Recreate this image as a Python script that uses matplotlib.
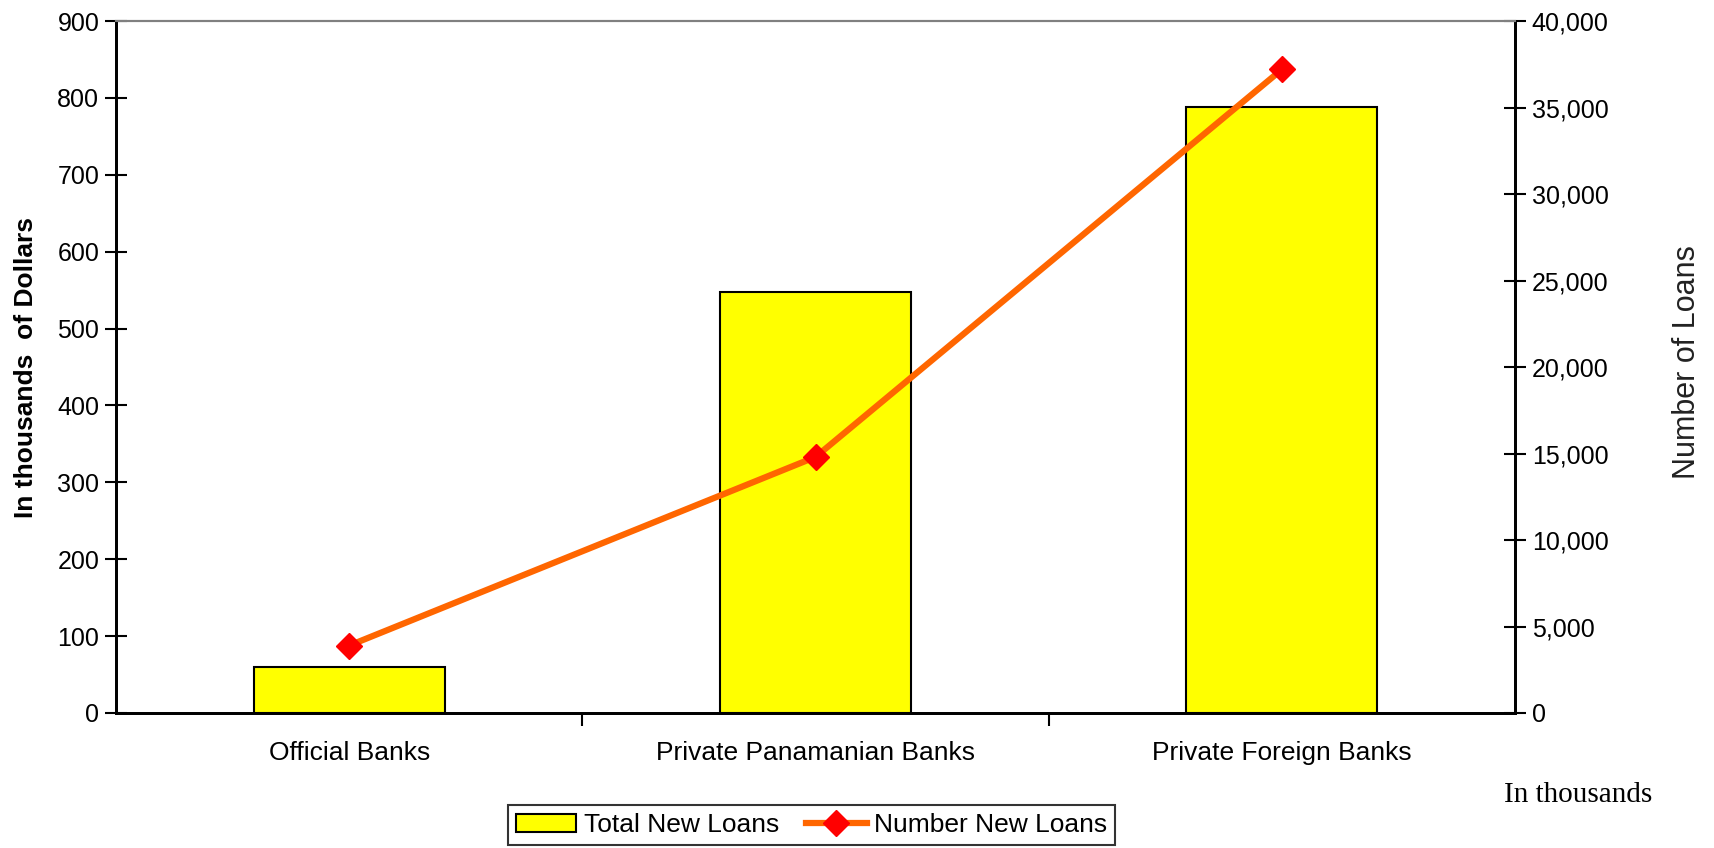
import numpy as np
import matplotlib.pyplot as plt
from matplotlib.ticker import FuncFormatter

banks = ["Official Banks", "Private Panamanian Banks", "Private Foreign Banks"]
total_new_loans = [60, 547, 788]          # thousands of dollars
number_new_loans = [3900, 14800, 37200]   # loans

plt.rcParams['font.family'] = ['Liberation Sans', 'DejaVu Sans']

fig = plt.figure(figsize=(17.14, 8.48), dpi=100)
ax = fig.add_axes([0.0677, 0.1592, 0.8162, 0.816])
ax2 = ax.twinx()

x = np.arange(len(banks))
ax.bar(x, total_new_loans, width=0.41, color='#ffff00', edgecolor='black',
       linewidth=1.5, label='Total New Loans', zorder=2)
ax2.plot(x, number_new_loans, color='#ff6600', linewidth=4.5, marker='D',
         markersize=13, markerfacecolor='#ff0000', markeredgecolor='#ff0000',
         label='Number New Loans', zorder=3)

ax.set_xlim(-0.5, len(banks) - 0.5)
ax.set_ylim(0, 900)
ax.set_yticks(np.arange(0, 901, 100))
ax2.set_ylim(0, 40000)
ax2.set_yticks(np.arange(0, 40001, 5000))
ax2.yaxis.set_major_formatter(FuncFormatter(lambda v, p: f"{int(v):,}"))

# category labels centred, tick marks on the boundaries
ax.set_xticks(x)
ax.set_xticklabels(banks, fontsize=19)
ax.tick_params(axis='x', length=0, pad=20)
ax.set_xticks(np.arange(0.5, len(banks) - 0.5, 1), minor=True)
ax.tick_params(axis='x', which='minor', direction='out', length=9, width=1.5)

ax.tick_params(axis='y', direction='inout', length=16, width=1.5,
               labelsize=18, pad=4)
ax2.tick_params(axis='y', direction='inout', length=16, width=1.5,
                labelsize=18, pad=4)

for a in (ax, ax2):
    a.spines['top'].set_color('#808080')
    a.spines['top'].set_linewidth(1.5)
    a.spines['left'].set_linewidth(2)
    a.spines['right'].set_linewidth(2)
    a.spines['bottom'].set_linewidth(2)

ax.set_ylabel('In thousands  of Dollars', fontsize=19, fontweight='bold')
ax.yaxis.set_label_coords(-0.0555, 0.5)

# right axis title sits well clear of the tick labels
fig.text(0.9843, 0.573, 'Number of Loans', rotation=90, fontsize=22,
         color='#222222', ha='center', va='center')

fig.text(0.921, 0.0625, 'In thousands', family=['Liberation Serif'],
         fontsize=21, ha='center', va='center')

h1, l1 = ax.get_legend_handles_labels()
h2, l2 = ax2.get_legend_handles_labels()
leg = fig.legend(h1 + h2, l1 + l2, loc='center', ncol=2,
                 bbox_to_anchor=(0.4735, 0.027), fontsize=19,
                 frameon=True, fancybox=False, edgecolor='black',
                 handlelength=2.3, handletextpad=0.3, columnspacing=1.0,
                 borderpad=0.3, borderaxespad=0)
leg.get_frame().set_linewidth(1.5)

fig.savefig('out.png', dpi=100)
